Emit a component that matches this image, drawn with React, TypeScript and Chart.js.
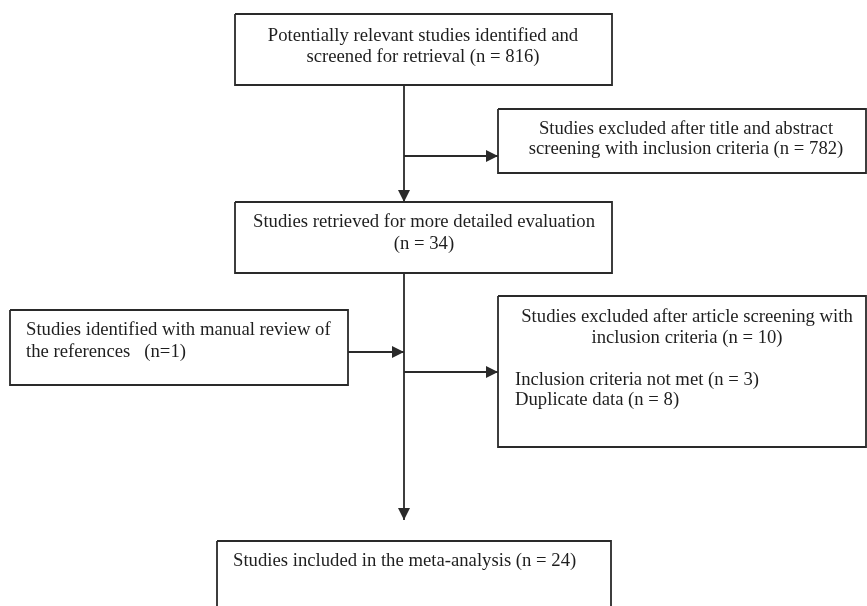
import React, { useEffect, useRef } from "react";
import { Chart, registerables } from "chart.js";

Chart.register(...registerables);

// ---- content (flow-diagram labels and counts) ----
const stageLabels: string[][] = [
  ["Potentially relevant studies identified and", "screened for retrieval (n = 816)"],
  ["Studies excluded after title and abstract", "screening with inclusion criteria (n = 782)"],
  ["Studies retrieved for more detailed evaluation", "(n = 34)"],
  ["Studies identified with manual review of", "the references   (n=1)"],
  ["Studies excluded after article screening with", "inclusion criteria (n = 10)"],
  ["Studies included in the meta-analysis (n = 24)"],
];
const exclusionReasons = ["Inclusion criteria not met", "Duplicate data"];
const exclusionCounts = [3, 8];

// ---- layout (in canvas-sized data units) ----
const W = 867;
const H = 606;
type Box = { x0: number; x1: number; y0: number; y1: number; align: "center" | "left"; tx: number; ty: number[] };
const boxes: Box[] = [
  { x0: 235, x1: 612, y0: 14, y1: 85, align: "center", tx: 423, ty: [41, 62] },
  { x0: 498, x1: 866, y0: 109, y1: 173, align: "center", tx: 686, ty: [134, 154] },
  { x0: 235, x1: 612, y0: 202, y1: 273, align: "center", tx: 424, ty: [227, 249] },
  { x0: 10, x1: 348, y0: 310, y1: 385, align: "left", tx: 26, ty: [335, 357] },
  { x0: 498, x1: 866, y0: 296, y1: 447, align: "center", tx: 687, ty: [322, 343] },
  { x0: 217, x1: 611, y0: 541, y1: 640, align: "left", tx: 233, ty: [566] },
];
const reasonX = 515;
const reasonY = [385, 405];
// arrows: from (x,y) to tip (x,y)
const arrows = [
  { from: [404, 85], to: [404, 202] },
  { from: [404, 156], to: [498, 156] },
  { from: [404, 273], to: [404, 520] },
  { from: [348, 352], to: [404, 352] },
  { from: [404, 372], to: [498, 372] },
];

const INK = "#2a2a2a";
const FONT = '18.7px "Liberation Serif", "Times New Roman", serif';

export default function App() {
  const ref = useRef<HTMLCanvasElement | null>(null);

  useEffect(() => {
    document.body.style.margin = "0";
    const canvas = ref.current;
    if (!canvas) return;

    const boxSets = boxes.map((b) => ({
      type: "line" as const,
      data: [
        { x: b.x0, y: b.y0 },
        { x: b.x1, y: b.y0 },
        { x: b.x1, y: b.y1 },
        { x: b.x0, y: b.y1 },
        { x: b.x0, y: b.y0 },
      ],
      borderColor: INK,
      borderWidth: 1.8,
      pointRadius: 0,
      fill: false,
      tension: 0,
      borderJoinStyle: "miter" as const,
    }));
    const arrowSets = arrows.map((a) => ({
      type: "line" as const,
      data: [
        { x: a.from[0], y: a.from[1] },
        { x: a.to[0], y: a.to[1] },
      ],
      borderColor: INK,
      borderWidth: 1.8,
      pointRadius: 0,
      fill: false,
    }));

    const textPlugin = {
      id: "flowText",
      afterDatasetsDraw(chart: any) {
        const { ctx, scales } = chart;
        const sx = (v: number) => scales.x.getPixelForValue(v);
        const sy = (v: number) => scales.y.getPixelForValue(v);
        ctx.save();
        // arrowheads
        ctx.fillStyle = INK;
        arrows.forEach((a) => {
          const tx = sx(a.to[0]);
          const ty = sy(a.to[1]);
          const fx = sx(a.from[0]);
          const fy = sy(a.from[1]);
          const ang = Math.atan2(ty - fy, tx - fx);
          const len = 12;
          const half = 6;
          const bx = tx - Math.cos(ang) * len;
          const by = ty - Math.sin(ang) * len;
          ctx.beginPath();
          ctx.moveTo(tx, ty);
          ctx.lineTo(bx + Math.sin(ang) * half, by - Math.cos(ang) * half);
          ctx.lineTo(bx - Math.sin(ang) * half, by + Math.cos(ang) * half);
          ctx.closePath();
          ctx.fill();
        });
        // labels
        ctx.font = FONT;
        ctx.fillStyle = "#1e1e1e";
        ctx.textBaseline = "alphabetic";
        boxes.forEach((b, i) => {
          ctx.textAlign = b.align;
          stageLabels[i].forEach((line, j) => {
            ctx.fillText(line, sx(b.tx), sy(b.ty[j]));
          });
        });
        ctx.textAlign = "left";
        exclusionReasons.forEach((r, k) => {
          ctx.fillText(`${r} (n = ${exclusionCounts[k]})`, sx(reasonX), sy(reasonY[k]));
        });
        ctx.restore();
      },
    };

    const chart = new Chart(canvas, {
      type: "scatter",
      data: { datasets: [...boxSets, ...arrowSets] as any },
      options: {
        animation: false,
        responsive: false,
        showLine: true,
        layout: { padding: 0 },
        plugins: { legend: { display: false }, tooltip: { enabled: false } },
        scales: {
          x: { type: "linear", min: 0, max: W, display: false },
          y: { type: "linear", min: 0, max: H, reverse: true, display: false },
        },
        elements: { point: { radius: 0 } },
      } as any,
      plugins: [textPlugin],
    });
    return () => chart.destroy();
  }, []);

  return (
    <div style={{ width: W, height: H, background: "#fff" }}>
      <canvas ref={ref} width={W} height={H} style={{ display: "block" }} />
    </div>
  );
}
